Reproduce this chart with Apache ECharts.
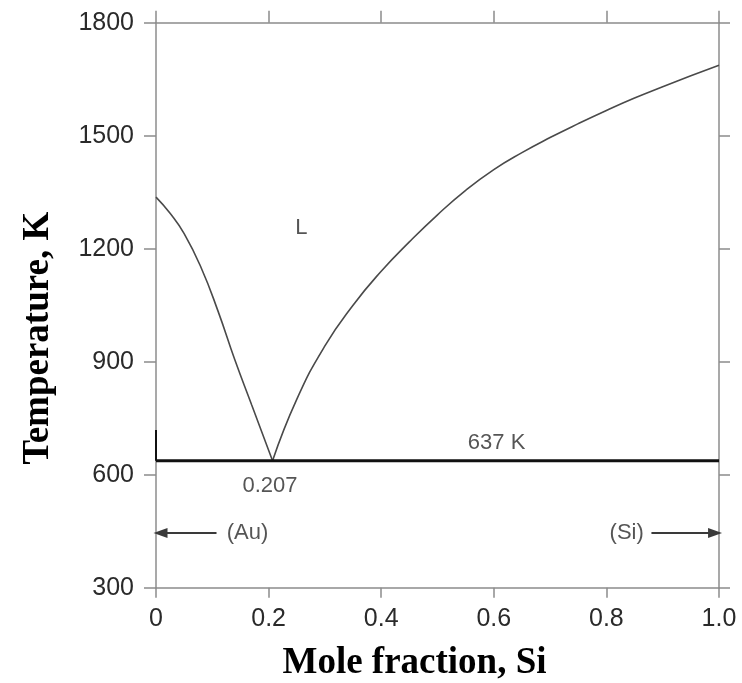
<!DOCTYPE html>
<html>
<head>
<meta charset="utf-8">
<script src="https://cdn.jsdelivr.net/npm/echarts@6/dist/echarts.min.js"></script>
<style>html,body{margin:0;padding:0;background:#fff}#c{width:742px;height:683px}</style>
</head>
<body>
<div id="c"></div>
<script>
// Liquidus, Au-rich branch (mole fraction Si, temperature K)
const leftX = [0, 0.025, 0.05, 0.08, 0.11, 0.14, 0.17, 0.207];
const leftT = [1337, 1294, 1240, 1150, 1035, 905, 785, 637];
// Liquidus, Si-rich branch
const rightX = [0.207, 0.25, 0.30, 0.35, 0.40, 0.45, 0.50, 0.55, 0.60, 0.65, 0.70, 0.75, 0.80, 0.85, 0.90, 0.95, 1.0];
const rightT = [637, 800, 942, 1050, 1140, 1218, 1290, 1355, 1410, 1455, 1495, 1532, 1567, 1600, 1630, 1659, 1687];
// Eutectic isotherm
const eutecticX = [0, 1];
const eutecticT = [637, 637];
// Au solubility mark at x=0
const auSolX = [0, 0];
const auSolT = [637, 719];
// Axis ticks
const xTicks = [0, 0.2, 0.4, 0.6, 0.8, 1.0];
const yTicks = [300, 600, 900, 1200, 1500, 1800];
// Annotations [x, T, text]
const labels = [
  [0.258, 1255, 'L'],
  [0.605, 683, '637 K'],
  [0.2025, 570, '0.207'],
  [0.1625, 445, '(Au)'],
  [0.836, 445, '(Si)']
];
// Arrows [fromX, toX, T]
const arrows = [
  [0.1075, 0.008, 445],
  [0.880, 0.993, 445]
];

const zip = (xs, ys) => xs.map((x, i) => [x, ys[i]]);
const axisGray = '#8c8c8c';
const tickFont = {fontFamily: 'Liberation Sans', fontSize: 25, color: '#2a2a2a'};

const chart = echarts.init(document.getElementById('c'));
chart.setOption({
  animation: false,
  backgroundColor: '#fff',
  grid: {left: 156, right: 23, top: 22.7, bottom: 95.3, containLabel: false, outerBoundsMode: 'none'},
  xAxis: [{
    type: 'value', min: xTicks[0], max: xTicks[xTicks.length - 1], interval: 0.2,
    position: 'bottom',
    name: 'Mole fraction, Si', nameLocation: 'middle', nameGap: 57,
    nameTextStyle: {fontFamily: 'Liberation Serif', fontWeight: 'bold', fontSize: 37, color: '#000', padding: [0, 46, 0, 0]},
    axisLine: {onZero: false, lineStyle: {color: axisGray, width: 1.5}},
    axisTick: {inside: false, length: 10, lineStyle: {color: axisGray, width: 1.5}},
    axisLabel: Object.assign({margin: 19, formatter: v => v === 0 ? '0' : v.toFixed(1)}, tickFont),
    splitLine: {show: false}
  }, {
    type: 'value', min: xTicks[0], max: xTicks[xTicks.length - 1], interval: 0.2,
    position: 'top',
    axisLine: {onZero: false, lineStyle: {color: axisGray, width: 1.5}},
    axisTick: {inside: false, length: 12, lineStyle: {color: axisGray, width: 1.5}},
    axisLabel: {show: false},
    splitLine: {show: false}
  }],
  yAxis: [{
    type: 'value', min: yTicks[0], max: yTicks[yTicks.length - 1], interval: 300,
    position: 'left',
    name: 'Temperature, K', nameLocation: 'middle', nameGap: 99, nameRotate: 90,
    nameTextStyle: {fontFamily: 'Liberation Serif', fontWeight: 'bold', fontSize: 37, color: '#000', padding: [0, 66, 0, 0]},
    axisLine: {onZero: false, lineStyle: {color: axisGray, width: 1.5}},
    axisTick: {inside: false, length: 12, lineStyle: {color: axisGray, width: 1.5}},
    axisLabel: Object.assign({margin: 22, formatter: v => String(v)}, tickFont),
    splitLine: {show: false}
  }, {
    type: 'value', min: yTicks[0], max: yTicks[yTicks.length - 1], interval: 300,
    position: 'right',
    axisLine: {onZero: false, lineStyle: {color: axisGray, width: 1.5}},
    axisTick: {inside: false, length: 11, lineStyle: {color: axisGray, width: 1.5}},
    axisLabel: {show: false},
    splitLine: {show: false}
  }],
  series: [
    {type: 'line', data: zip(leftX, leftT), smooth: 0.5, symbol: 'none',
     lineStyle: {color: '#4a4a4a', width: 1.6}},
    {type: 'line', data: zip(rightX, rightT), smooth: 0.5, symbol: 'none',
     lineStyle: {color: '#4a4a4a', width: 1.6}},
    {type: 'line', data: zip(eutecticX, eutecticT), symbol: 'none',
     lineStyle: {color: '#111', width: 3}},
    {type: 'line', data: zip(auSolX, auSolT), symbol: 'none',
     lineStyle: {color: '#111', width: 2}},
    {type: 'scatter', data: labels.map(l => ({value: [l[0], l[1]], name: l[2]})),
     symbolSize: 0, silent: true,
     label: {show: true, position: 'inside', formatter: p => p.name,
       fontFamily: 'Liberation Sans', fontSize: 22, color: '#2a2a2a'},
     markLine: {
       silent: true, symbol: ['none', 'triangle'], symbolSize: [10, 14],
       label: {show: false},
       lineStyle: {color: '#3a3a3a', width: 1.8, type: 'solid'},
       data: arrows.map(a => [{coord: [a[0], a[2]]}, {coord: [a[1], a[2]]}])
     }}
  ]
});
</script>
</body>
</html>
